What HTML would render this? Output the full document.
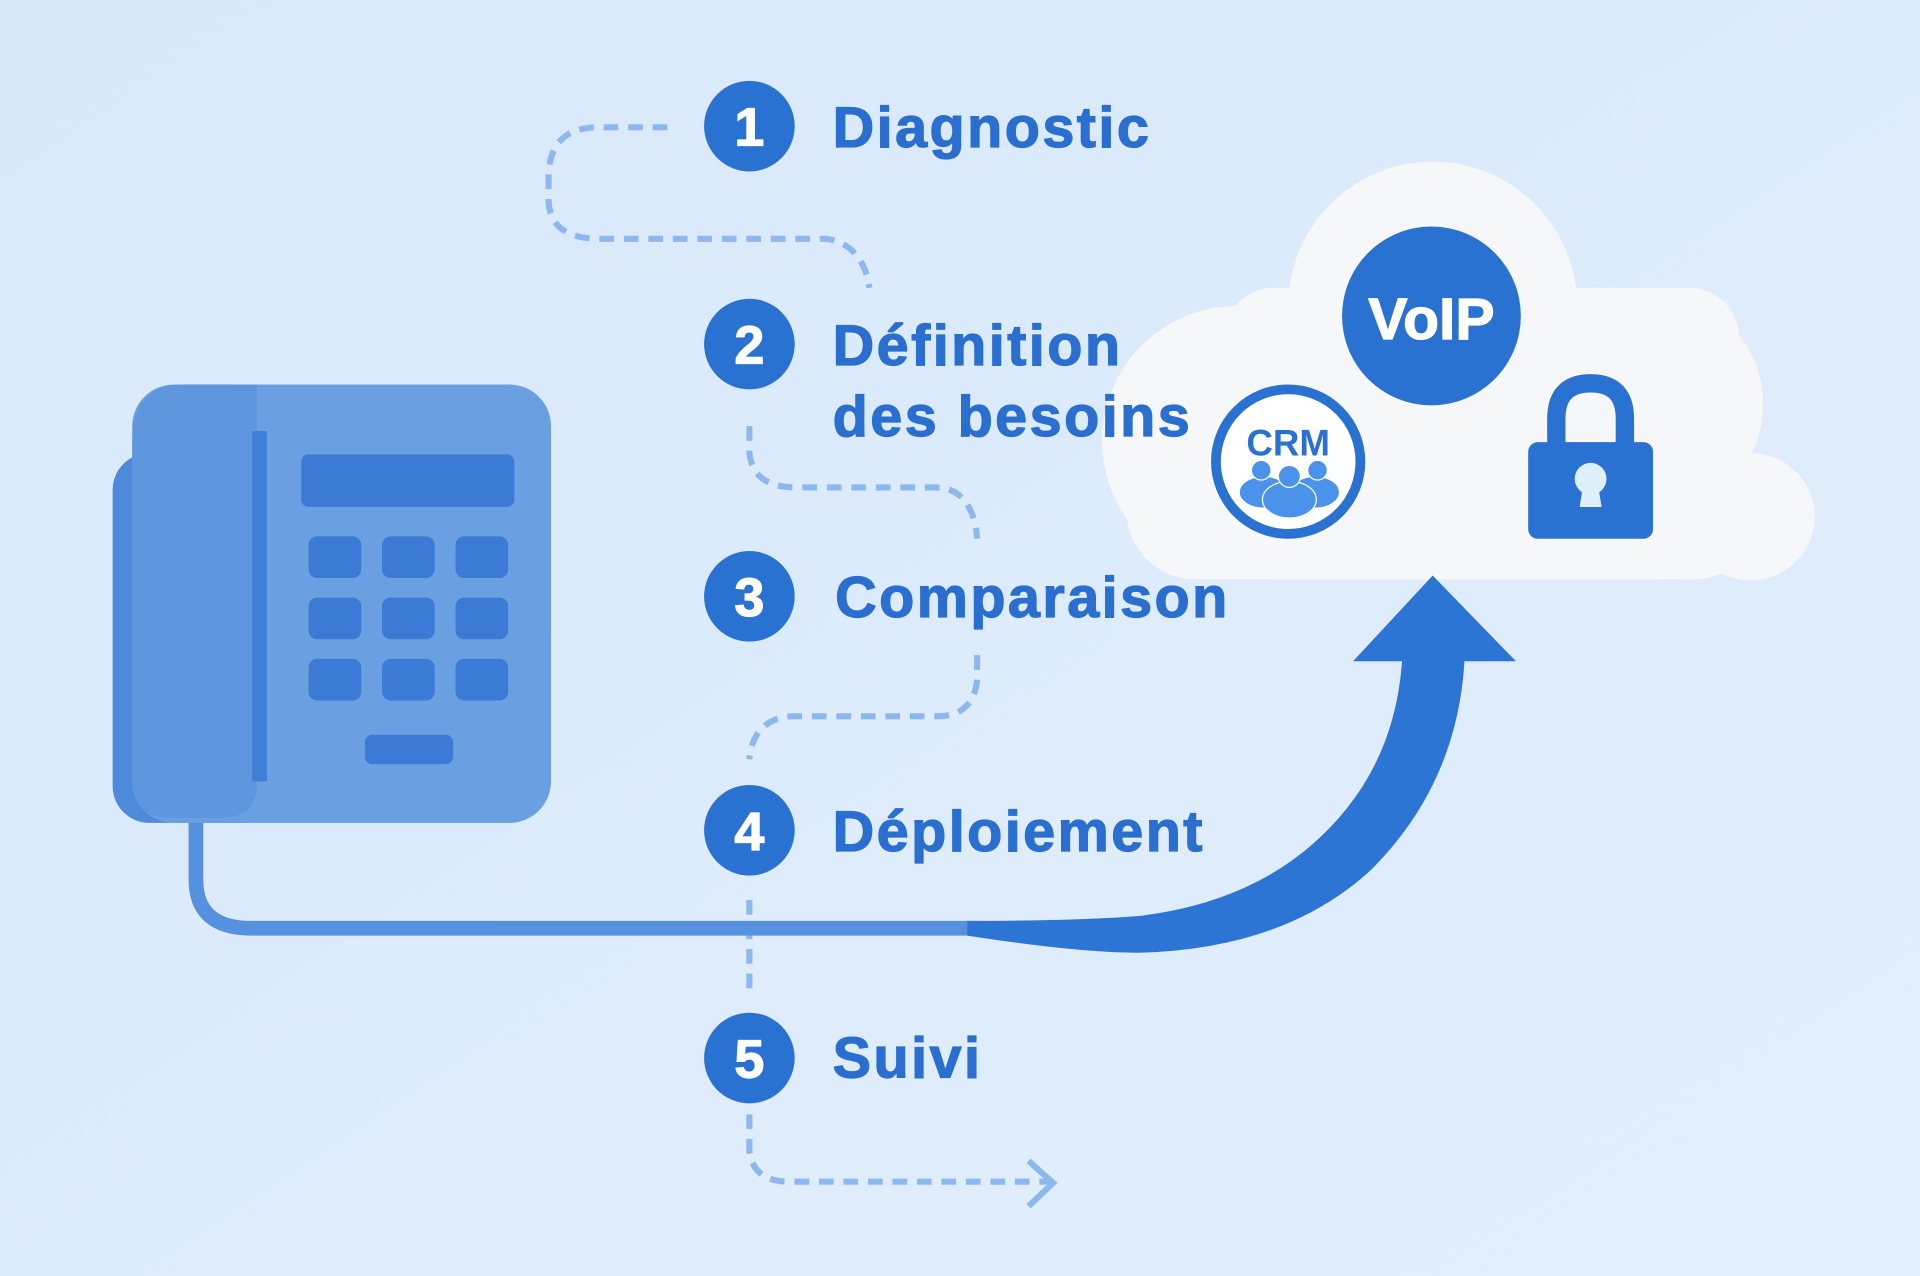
<!DOCTYPE html>
<html><head><meta charset="utf-8"><style>
html,body{margin:0;padding:0;width:1920px;height:1276px;overflow:hidden;background:#dcebfb;}
svg{display:block}
text{font-family:"Liberation Sans",sans-serif;font-weight:bold;}
</style></head><body>
<svg width="1920" height="1276" viewBox="0 0 1568 1042" preserveAspectRatio="none">
<defs>
<linearGradient id="bg" x1="0" y1="0" x2="1" y2="1">
<stop offset="0" stop-color="#d8e9fb"/><stop offset="1" stop-color="#e2eefc"/>
</linearGradient>
</defs>
<rect width="1568" height="1042" fill="url(#bg)"/>

<g fill="none" stroke="#8db8ef" stroke-width="5" stroke-dasharray="12 8">
<path d="M545 104 H485 Q448 106 448 145 V165 Q450 195 490 195 H675 Q705 200 710 235"/>
<path d="M612 348 V370 Q615 398 650 398 H768 Q795 402 798 440"/>
<path d="M798 535 V555 Q795 585 765 585 H645 Q615 588 612 620"/>
<path d="M612 735 V810"/>
<path d="M612 910 V940 Q615 965 645 965 H858"/>
</g>
<path d="M840 948 L860 966 L840 985" fill="none" stroke="#8db8ef" stroke-width="5"/>

<g fill="#f6f7f8">
<circle cx="1170" cy="250" r="118"/>
<circle cx="1010" cy="360" r="110"/>
<circle cx="1350" cy="330" r="90"/>
<circle cx="1430" cy="422" r="52"/>
<rect x="1000" y="235" width="420" height="238" rx="40"/>
<rect x="920" y="360" width="520" height="113" rx="56"/>
</g>
<circle cx="1169" cy="258" r="73" fill="#2a72d2"/>
<text x="1169" y="277" font-size="48" fill="#fff" text-anchor="middle" stroke="#fff" stroke-width="1">VoIP</text>
<circle cx="1052" cy="377" r="59" fill="#fff" stroke="#2a72d2" stroke-width="8"/>
<text x="1052" y="372" font-size="30" fill="#2a72d2" text-anchor="middle">CRM</text>
<g fill="#4a92ea" stroke="#fff" stroke-width="1">
<ellipse cx="1032" cy="402" rx="20" ry="13"/><ellipse cx="1074" cy="402" rx="20" ry="13"/>
<circle cx="1030" cy="384" r="8"/><circle cx="1076" cy="384" r="8"/>
<ellipse cx="1053" cy="408" rx="22" ry="15"/><circle cx="1053" cy="389" r="9"/>
</g>
<path d="M1271 364 V342 Q1271 313 1299 313 Q1327 313 1327 342 V364" fill="none" stroke="#2a72d2" stroke-width="15"/>
<rect x="1248" y="361" width="102" height="79" rx="8" fill="#2a72d2"/>
<circle cx="1299" cy="391" r="13" fill="#dfeefb"/>
<path d="M1293 396 L1290 414 H1308 L1305 396 Z" fill="#dfeefb"/>

<rect x="92" y="370" width="140" height="302" rx="30" fill="#4d8ad9"/>
<rect x="108" y="314" width="342" height="358" rx="34" fill="#6a9fe2"/>
<path d="M108 360 Q108 314 150 314 H210 V638 Q210 668 180 668 H140 Q108 668 108 636 Z" fill="#5f97de"/>
<rect x="206" y="352" width="12" height="286" fill="#3f7fd6"/>
<rect x="246" y="371" width="174" height="43" rx="6" fill="#3b7bd6"/>
<g fill="#3b7bd6">
<rect x="252" y="438" width="43" height="34" rx="7"/><rect x="312" y="438" width="43" height="34" rx="7"/><rect x="372" y="438" width="43" height="34" rx="7"/>
<rect x="252" y="488" width="43" height="34" rx="7"/><rect x="312" y="488" width="43" height="34" rx="7"/><rect x="372" y="488" width="43" height="34" rx="7"/>
<rect x="252" y="538" width="43" height="34" rx="7"/><rect x="312" y="538" width="43" height="34" rx="7"/><rect x="372" y="538" width="43" height="34" rx="7"/>
<rect x="298" y="600" width="72" height="24" rx="6"/>
</g>

<path d="M160 672 V718 Q160 758 205 758 H800" fill="none" stroke="#5591df" stroke-width="12"/>
<path d="M790 752 Q880 752 930 748 Q1040 735 1100 660 Q1140 610 1145 540 L1105 540 L1170 470 L1238 540 L1196 540 Q1190 640 1120 710 Q1050 775 930 778 Q880 778 790 764 Z" fill="#2d75d4"/>

<g fill="#2a72d2">
<circle cx="612" cy="103" r="37"/><circle cx="612" cy="281" r="37"/><circle cx="612" cy="487" r="37"/><circle cx="612" cy="678" r="37"/><circle cx="612" cy="864" r="37"/>
</g>
<g fill="#fff" font-size="44" text-anchor="middle" stroke="#fff" stroke-width="1">
<text x="612" y="119">1</text><text x="612" y="297">2</text><text x="612" y="503">3</text><text x="612" y="694">4</text><text x="612" y="880">5</text>
</g>
<g fill="#2a6fd0" font-size="47" letter-spacing="2" stroke="#2a6fd0" stroke-width="1">
<text x="680" y="120">Diagnostic</text>
<text x="680" y="298">Définition</text>
<text x="680" y="356">des besoins</text>
<text x="682" y="504">Comparaison</text>
<text x="680" y="695">Déploiement</text>
<text x="680" y="880">Suivi</text>
</g>
</svg>
</body></html>
